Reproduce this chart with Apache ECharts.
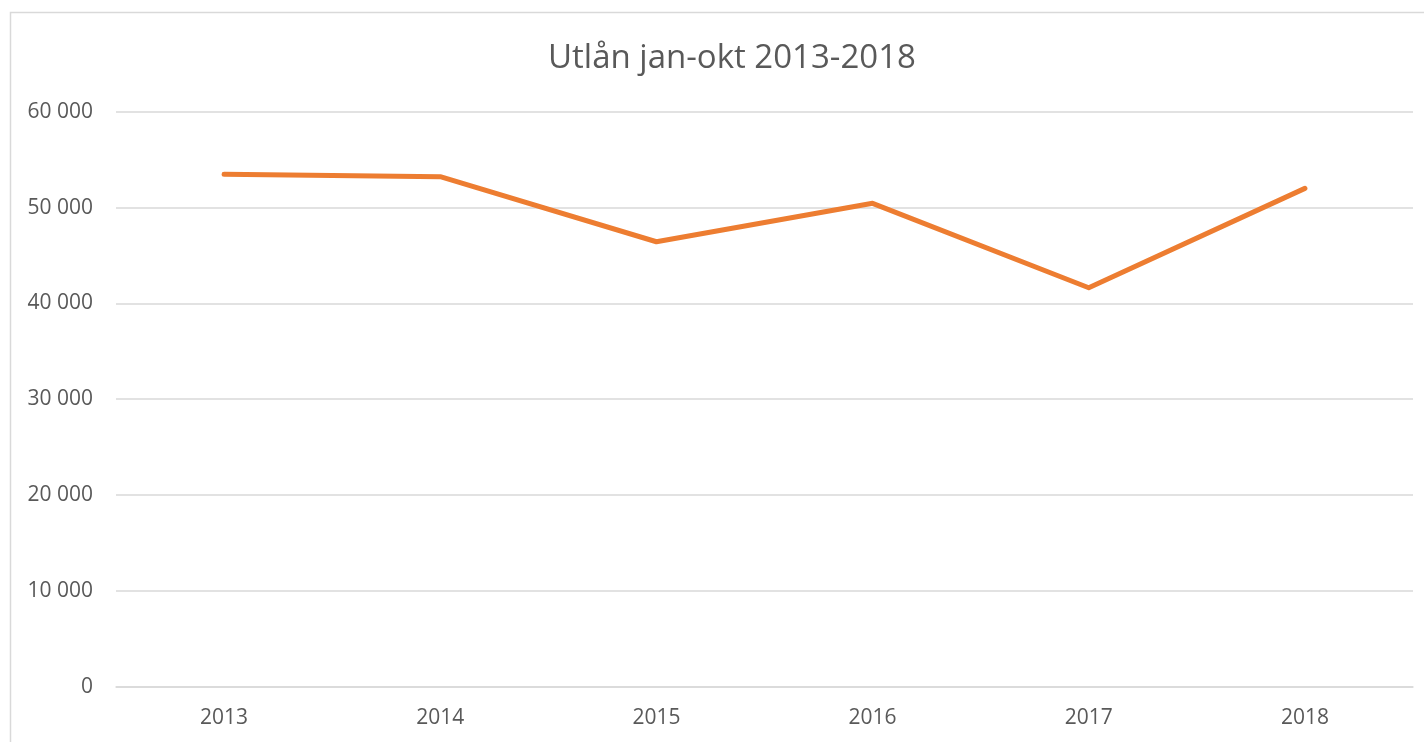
<!DOCTYPE html>
<html>
<head>
<meta charset="utf-8">
<script src="https://cdn.jsdelivr.net/npm/echarts@6/dist/echarts.min.js"></script>
<style>
html,body{margin:0;padding:0;background:#fff;}
#chart{width:1424px;height:742px;}
</style>
</head>
<body>
<div id="chart"></div>
<script>
const titleText = 'Utlån jan-okt 2013-2018';
const categories = ['2013', '2014', '2015', '2016', '2017', '2018'];
const loans = [53470, 53220, 46430, 50440, 41630, 52000];
const yTicks = { min: 0, max: 60000, interval: 10000 };

const chart = echarts.init(document.getElementById('chart'));
const fontFam = '"Open Sans", "Liberation Sans", sans-serif';
chart.setOption({
  animation: false,
  backgroundColor: '#ffffff',
  title: {
    text: titleText,
    left: 543,
    top: 37,
    textStyle: { fontFamily: fontFam, fontSize: 33, fontWeight: 'normal', color: '#595959' }
  },
  graphic: [{
    type: 'rect',
    shape: { x: 10.5, y: 12.5, width: 1430, height: 760 },
    style: { fill: 'none', stroke: '#d9d9d9', lineWidth: 1.5 },
    silent: true
  }],
  grid: { left: 116, right: 11, top: 111.7, bottom: 55.3, containLabel: false },
  xAxis: {
    type: 'category',
    data: categories,
    boundaryGap: true,
    axisLine: { show: true, lineStyle: { color: '#d9d9d9', width: 1.5 } },
    axisTick: { show: false },
    axisLabel: { color: '#595959', fontSize: 21, fontFamily: fontFam, margin: 21 }
  },
  yAxis: {
    type: 'value',
    min: yTicks.min,
    max: yTicks.max,
    interval: yTicks.interval,
    axisLine: { show: false },
    axisTick: { show: false },
    splitLine: { lineStyle: { color: '#d9d9d9', width: 1.5 } },
    axisLabel: {
      color: '#595959', fontSize: 21, fontFamily: fontFam, margin: 23,
      formatter: v => v === 0 ? '0' : String(v).replace(/\B(?=(\d{3})+(?!\d))/g, ' ')
    }
  },
  series: [{
    type: 'line',
    data: loans,
    showSymbol: false,
    symbol: 'none',
    lineStyle: { color: '#ED7D31', width: 5, cap: 'round', join: 'round' },
    itemStyle: { color: '#ED7D31' }
  }]
});
</script>
</body>
</html>
